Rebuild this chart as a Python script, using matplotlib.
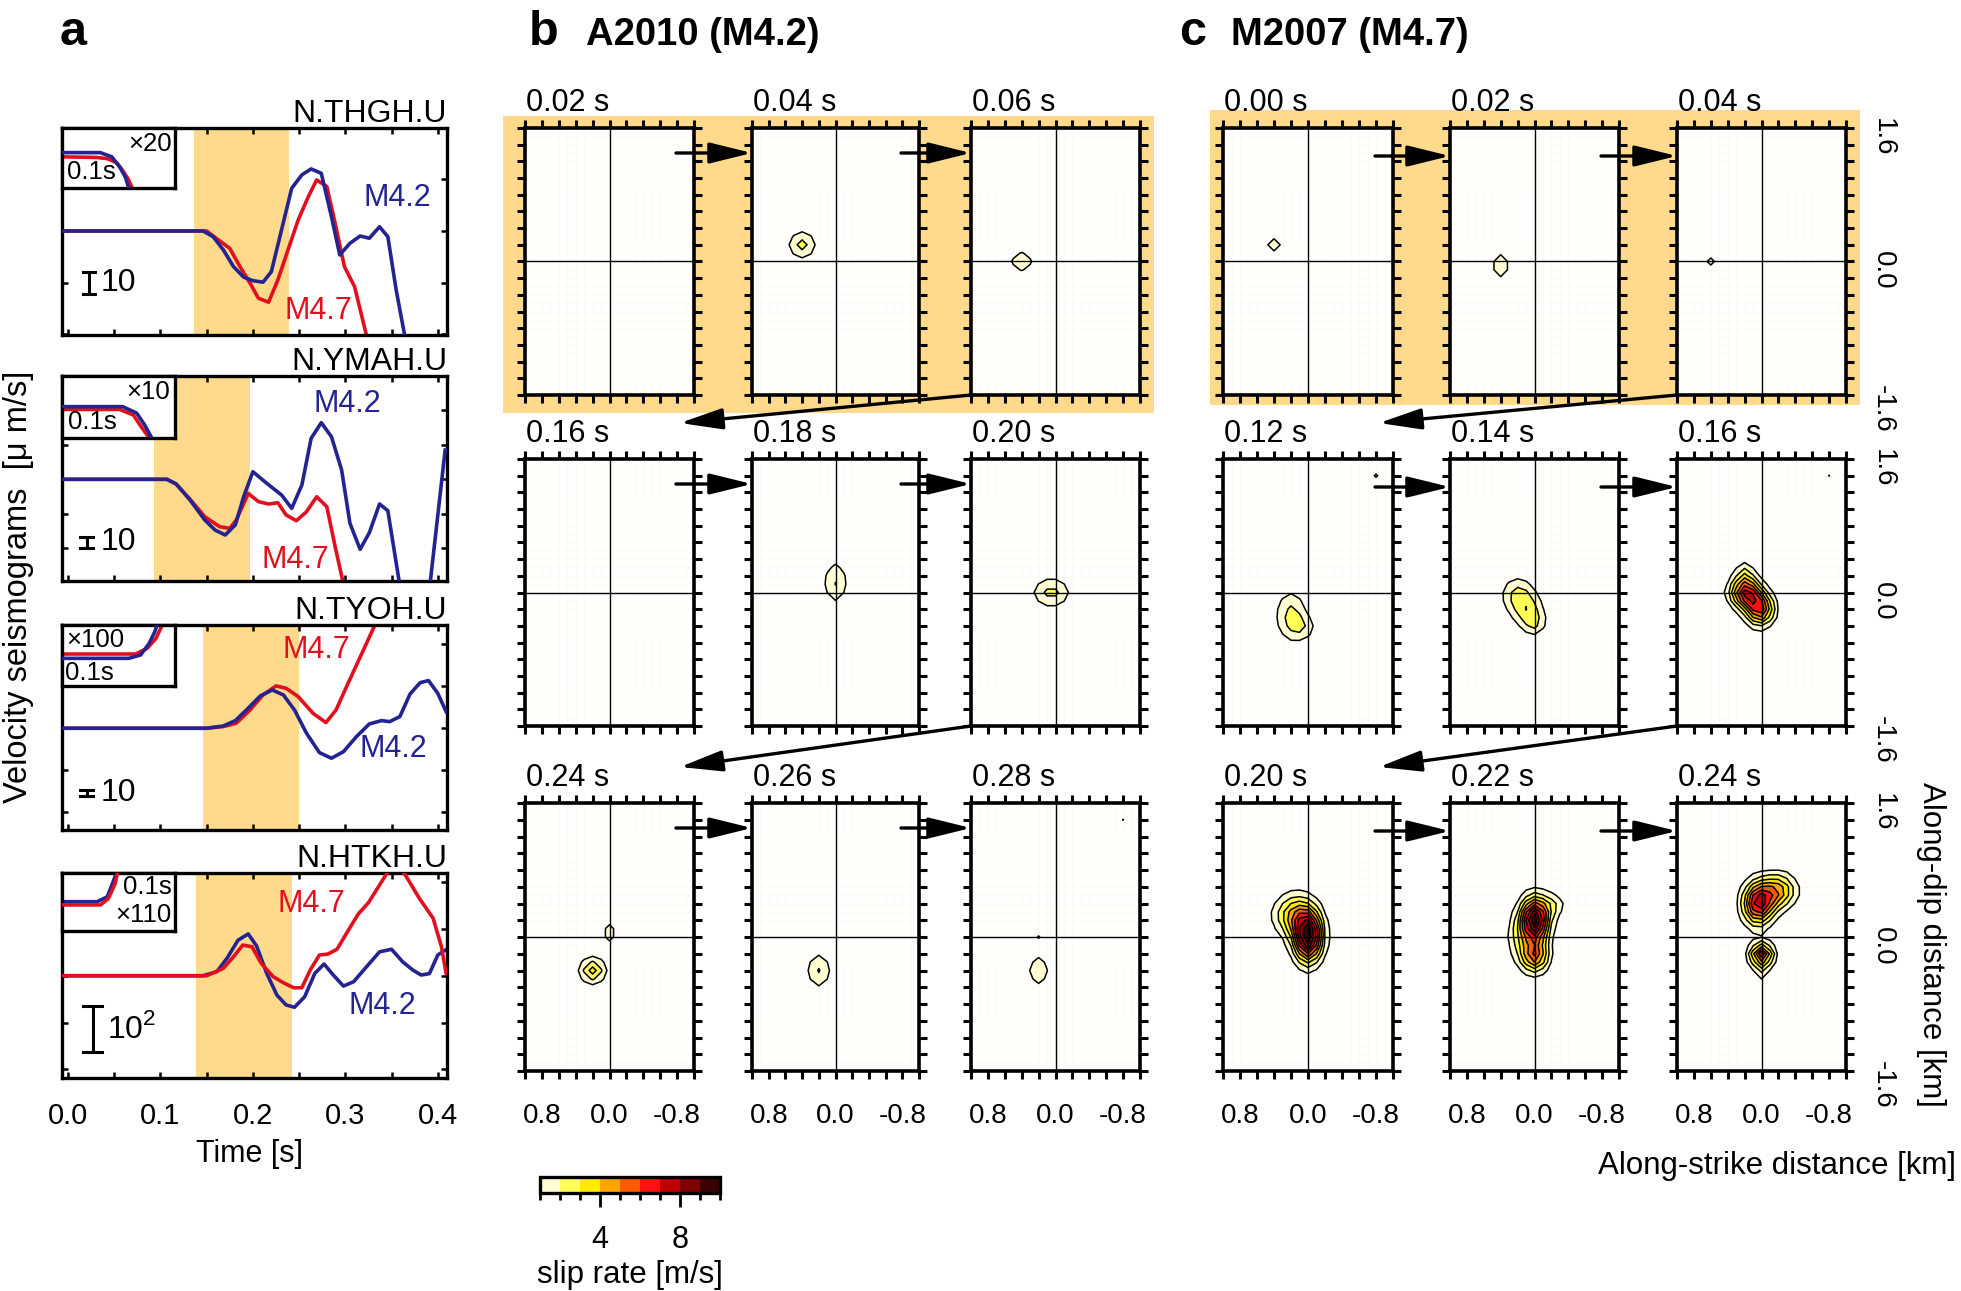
import matplotlib
matplotlib.use('Agg')
import matplotlib.pyplot as plt
import numpy as np
from matplotlib.patches import Rectangle, FancyArrowPatch
from matplotlib.colors import ListedColormap, BoundaryNorm
from matplotlib.cm import ScalarMappable
from matplotlib.ticker import MultipleLocator, FixedLocator, FixedFormatter
from matplotlib.transforms import blended_transform_factory

plt.rcParams['font.family'] = ['Liberation Sans', 'DejaVu Sans']
plt.rcParams['mathtext.fontset'] = 'custom'
plt.rcParams['mathtext.rm'] = 'Liberation Sans'

# ---------------- panel a: seismograms ----------------
stations = ['N.THGH.U', 'N.YMAH.U', 'N.TYOH.U', 'N.HTKH.U']
windows = [(0.136, 0.239), (0.093, 0.197), (0.146, 0.250), (0.138, 0.242)]
bar_len = [10, 10, 10, 100]
bar_text = ['10', '10', '10', '10$^2$']
gain_text = ['×20', '×10', '×100', '×110']

thgh_t42 = [-0.01, 0.146, 0.157, 0.168, 0.179, 0.190, 0.200, 0.211, 0.220, 0.231, 0.242, 0.253,
            0.263, 0.274, 0.285, 0.294, 0.305, 0.316, 0.326, 0.337, 0.346, 0.355, 0.364, 0.372]
thgh_v42 = [0, 0, -2.6, -8.6, -16.2, -21, -22.6, -23.3, -18.5, 0.5, 19.4, 25.5,
            28.2, 26.2, 6.5, -10.9, -5.6, -2.3, -3.3, 1.9, -2.6, -26.8, -47, -70]
thgh_t47 = [-0.01, 0.150, 0.158, 0.175, 0.186, 0.197, 0.206, 0.217, 0.227, 0.238, 0.249,
            0.260, 0.269, 0.280, 0.289, 0.299, 0.310, 0.321, 0.330]
thgh_v47 = [0, 0, -2.6, -7.9, -16.2, -23.8, -30.6, -32.4, -22.3, -8.6, 5,
            15.6, 23.2, 20.2, 3.5, -16.2, -25.3, -44.2, -60]

ymah_t42 = [-0.01, 0.107, 0.117, 0.132, 0.148, 0.159, 0.170, 0.181, 0.190, 0.200, 0.215, 0.231,
            0.242, 0.253, 0.263, 0.274, 0.285, 0.296, 0.305, 0.316, 0.326, 0.337, 0.346, 0.358,
            0.366, 0.388, 0.392, 0.408]
ymah_v42 = [0, 0, -4, -17.7, -34.8, -43.3, -47.6, -39, -14.9, 6.5, -3.4, -13.4,
            -24.8, -4.9, 35, 48.4, 36.4, 8, -37.6, -59.8, -45.6, -21.1, -26.8, -86,
            -110, -110, -87, 25]
ymah_t47 = [-0.01, 0.107, 0.117, 0.132, 0.148, 0.164, 0.175, 0.182, 0.195, 0.206, 0.217, 0.227,
            0.236, 0.247, 0.258, 0.269, 0.280, 0.289, 0.297, 0.305]
ymah_v47 = [0, 0, -4, -17, -32, -40.5, -41.9, -34.8, -12, -19.1, -21.1, -20,
            -30.5, -35.4, -27.7, -14.9, -23.4, -57.6, -86, -120]

tyoh_t42 = [-0.01, 0.150, 0.168, 0.181, 0.193, 0.208, 0.221, 0.233, 0.245, 0.258, 0.272, 0.285,
            0.298, 0.312, 0.326, 0.339, 0.348, 0.359, 0.370, 0.381, 0.390, 0.400, 0.409]
tyoh_v42 = [0, 0, 3.8, 12.7, 30.5, 53.8, 63.8, 55.5, 30.5, -8.3, -40.6, -50,
            -39, -14, 7.2, 12.7, 11, 19.4, 57, 76, 79.4, 58.3, 27.7]
tyoh_t47 = [-0.01, 0.150, 0.168, 0.182, 0.197, 0.211, 0.225, 0.236, 0.249, 0.265, 0.279, 0.290,
            0.303, 0.318, 0.332, 0.345]
tyoh_v47 = [0, 0, 2.8, 8.3, 30.5, 55.5, 70.5, 66.6, 52.7, 25, 9.4, 30.5,
            75, 125, 172, 220]

htkh_t42 = [-0.01, 0.146, 0.161, 0.172, 0.184, 0.195, 0.204, 0.215, 0.226, 0.236, 0.245, 0.256,
            0.267, 0.277, 0.287, 0.298, 0.309, 0.323, 0.337, 0.350, 0.362, 0.373, 0.382, 0.391,
            0.400, 0.411]
htkh_v42 = [0, 0, 8.9, 38.7, 79, 92.7, 66, 5.2, -43, -65, -70, -46.7,
            5.2, 26, 1.5, -23, -13.3, 20, 53, 58.7, 31, 12.6, 1.5, 4.7,
            46, 60.7]
htkh_t47 = [-0.01, 0.150, 0.168, 0.179, 0.189, 0.199, 0.209, 0.222, 0.233, 0.244, 0.253, 0.262,
            0.272, 0.281, 0.291, 0.303, 0.314, 0.325, 0.336, 0.345, 0.350, 0.357, 0.366, 0.380,
            0.395, 0.404, 0.409]
htkh_v47 = [0, 0, 16.3, 42, 68, 64.4, 27.5, -2.2, -15.5, -26.7, -26.7, 12.6,
            46, 48, 58.7, 100, 137, 162, 198, 227.5, 245, 245, 220, 172,
            127.5, 64.4, 5.2]

# inset close-ups of the onset (time in s, normalised amplitude)
ins_t42 = [[0, 0.0338, 0.044, 0.051, 0.056, 0.059, 0.060],
           [0, 0.0537, 0.066, 0.073, 0.079, 0.080],
           [0, 0.059, 0.0695, 0.077, 0.082, 0.084, 0.085],
           [0, 0.031, 0.040, 0.0456, 0.048, 0.049]]
ins_v42 = [[0.59, 0.59, 0.52, 0.35, 0.18, 0.0, -0.1],
           [0.505, 0.505, 0.40, 0.21, 0.01, -0.1],
           [0.454, 0.454, 0.51, 0.70, 0.89, 1.0, 1.1],
           [0.505, 0.505, 0.59, 0.87, 1.0, 1.1]]
ins_t47 = [[0, 0.030, 0.040, 0.0485, 0.0544, 0.059, 0.062, 0.063],
           [0, 0.051, 0.063, 0.070, 0.077, 0.078],
           [0, 0.065, 0.0754, 0.083, 0.0873, 0.089, 0.090],
           [0, 0.034, 0.041, 0.047, 0.049, 0.050]]
ins_v47 = [[0.52, 0.51, 0.49, 0.42, 0.27, 0.13, 0.0, -0.1],
           [0.46, 0.46, 0.37, 0.18, 0.0, -0.1],
           [0.525, 0.525, 0.62, 0.78, 0.95, 1.0, 1.1],
           [0.45, 0.45, 0.56, 0.82, 1.0, 1.1]]

# ---------------- panels b, c: slip-rate snapshots ----------------
b_times = ['0.02 s', '0.04 s', '0.06 s', '0.16 s', '0.18 s', '0.20 s', '0.24 s', '0.26 s', '0.28 s']
c_times = ['0.00 s', '0.02 s', '0.04 s', '0.12 s', '0.14 s', '0.16 s', '0.20 s', '0.22 s', '0.24 s']
# slip-rate patches: (strike km, dip km, width km, height km, peak m/s)
b_patches = [
    [],
    [(0.4, 0.2, 0.11, 0.11, 2.5)],
    [(0.4, 0.0, 0.13, 0.12, 1.5)],
    [],
    [(0.0, 0.12, 0.10, 0.18, 2.05)],
    [(0.05, 0.0, 0.15, 0.12, 2.4)],
    [(0.2, -0.4, 0.10, 0.10, 3.6), (0.0, 0.05, 0.08, 0.11, 1.5)],
    [(0.2, -0.4, 0.10, 0.15, 2.1)],
    [(0.2, -0.4, 0.10, 0.15, 1.7), (0.2, 0.0, 0.03, 0.03, 1.1), (-0.8, 1.4, 0.03, 0.03, 1.05)],
]
c_patches = [
    [(0.4, 0.2, 0.10, 0.10, 1.4)],
    [(0.4, -0.05, 0.09, 0.13, 1.7)],
    [(0.6, 0.0, 0.10, 0.10, 1.2)],
    [(0.2, -0.28, 0.12, 0.20, 2.4), (0.05, -0.42, 0.10, 0.10, 1.4), (-0.8, 1.4, 0.05, 0.05, 1.2)],
    [(0.2, -0.02, 0.13, 0.14, 2.2), (0.08, -0.22, 0.13, 0.14, 2.2), (0.0, -0.38, 0.09, 0.10, 1.6)],
    [(0.19, 0.0, 0.12, 0.12, 7.0), (0.02, -0.2, 0.11, 0.13, 6.5), (0.2, 0.24, 0.08, 0.09, 1.9),
     (-0.8, 1.4, 0.03, 0.03, 1.05)],
    [(0.0, 0.0, 0.11, 0.20, 9.8), (0.16, 0.26, 0.16, 0.17, 4.0)],
    [(0.0, 0.2, 0.11, 0.18, 9.8), (0.0, -0.23, 0.11, 0.13, 5.5), (-0.22, 0.38, 0.10, 0.10, 1.8),
     (0.2, 0.0, 0.10, 0.18, 1.6)],
    [(0.04, 0.40, 0.12, 0.17, 7.5), (-0.2, 0.55, 0.14, 0.14, 4.5), (0.0, -0.21, 0.09, 0.09, 7.0),
     (0.0, -0.42, 0.07, 0.08, 1.6)],
]
slip_levels = [1, 2, 3, 4, 5, 6, 7, 8, 9, 10]
slip_colors = ['#FFFFD2', '#FFFF55', '#FFEA00', '#FFA500', '#FF5A00',
               '#FF1010', '#C00000', '#800000', '#3C0000']

ORANGE = '#FFD98C'
BLUE = '#232391'
RED = '#E2101E'

W, H = 1961, 1291


def box(l, t, r, b):
    return [l / W, 1 - b / H, (r - l) / W, (b - t) / H]


fig = plt.figure(figsize=(W / 100, H / 100), dpi=100)

# ---- panel a ----
a_rows = [(128, 335), (376, 581), (625, 830), (873, 1078)]
ylims = [(-47.3, 46.8), (-86.9, 88.3), (-169.5, 172), (-227, 228)]
ystep = [23.5, 29.5, 70, 104]
red_on_top = [False, False, False, True]
m42_pos = [(0.782, 0.662), (0.652, 0.863), (0.774, 0.395), (0.743, 0.351)]
m47_pos = [(0.579, 0.116), (0.519, 0.102), (0.574, 0.878), (0.561, 0.849)]
bar_pos = [(0.070, 0.251, 0.016), (0.064, 0.188, 0.016), (0.064, 0.180, 0.016), (0.080, 0.239, 0.025)]
bar_txt_x = [0.100, 0.100, 0.100, 0.118]
inset_box = [(0.710, 0.290), (0.698, 0.302), (0.702, 0.298), (0.717, 0.283)]

wave42 = [(thgh_t42, thgh_v42), (ymah_t42, ymah_v42), (tyoh_t42, tyoh_v42), (htkh_t42, htkh_v42)]
wave47 = [(thgh_t47, thgh_v47), (ymah_t47, ymah_v47), (tyoh_t47, tyoh_v47), (htkh_t47, htkh_v47)]

for i, (top, bot) in enumerate(a_rows):
    ax = fig.add_axes(box(62, top, 447, bot))
    ax.axvspan(*windows[i], color=ORANGE, lw=0, zorder=0)
    zr, zb = (3, 2) if red_on_top[i] else (2, 3)
    ax.plot(*wave47[i], color=RED, lw=2.6, zorder=zr)
    ax.plot(*wave42[i], color=BLUE, lw=2.6, zorder=zb)
    ax.set_xlim(-0.0065, 0.41)
    ax.set_ylim(*ylims[i])
    ax.xaxis.set_major_locator(MultipleLocator(0.1))
    ax.xaxis.set_minor_locator(MultipleLocator(0.05))
    ax.xaxis.set_major_formatter(lambda v, p: f'{v:.1f}')
    ax.yaxis.set_major_locator(MultipleLocator(ystep[i]))
    ax.tick_params(which='both', direction='in', top=True, right=True, length=4, width=1.8,
                   labelsize=21, labelleft=False, pad=17)
    if i < 3:
        ax.tick_params(labelbottom=False)
    for s in ax.spines.values():
        s.set_linewidth(2.4)
    ax.text(1.0, 1 + 6 / (bot - top), stations[i], transform=ax.transAxes, ha='right',
            va='baseline', fontsize=23)
    ax.text(*m42_pos[i], 'M4.2', color=BLUE, transform=ax.transAxes, va='center', fontsize=22)
    ax.text(*m47_pos[i], 'M4.7', color=RED, transform=ax.transAxes, va='center', fontsize=22)

    # amplitude scale bar
    bx, byf, cap = bar_pos[i]
    y0, y1 = ax.get_ylim()
    yc = y0 + byf * (y1 - y0)
    L = bar_len[i]
    tr = blended_transform_factory(ax.transAxes, ax.transData)
    ax.plot([bx, bx], [yc - L / 2, yc + L / 2], color='k', lw=2.2, transform=tr, solid_capstyle='butt')
    for yy in (yc - L / 2, yc + L / 2):
        ax.plot([bx - cap, bx + cap], [yy, yy], color='k', lw=2.2, transform=tr)
    ax.text(bar_txt_x[i], byf, bar_text[i], transform=ax.transAxes, va='center', fontsize=23)

    # onset inset
    iy, ih = inset_box[i]
    iax = ax.inset_axes([0, iy, 0.294, ih])
    iax.plot(ins_t47[i], ins_v47[i], color=RED, lw=2.6, zorder=zr)
    iax.plot(ins_t42[i], ins_v42[i], color=BLUE, lw=2.6, zorder=zb)
    iax.set_xlim(0, 0.1)
    iax.set_ylim(0, 1)
    iax.set_xticks([])
    iax.set_yticks([])
    for s in iax.spines.values():
        s.set_linewidth(2.4)
    fs_in = 18.5
    if i == 0:
        iax.text(0.97, 0.73, gain_text[i], ha='right', va='center', fontsize=fs_in, transform=iax.transAxes)
        iax.text(0.04, 0.27, '0.1s', ha='left', va='center', fontsize=fs_in, transform=iax.transAxes)
    elif i == 1:
        iax.text(0.95, 0.74, gain_text[i], ha='right', va='center', fontsize=fs_in, transform=iax.transAxes)
        iax.text(0.05, 0.26, '0.1s', ha='left', va='center', fontsize=fs_in, transform=iax.transAxes)
    elif i == 2:
        iax.text(0.04, 0.75, gain_text[i], ha='left', va='center', fontsize=fs_in, transform=iax.transAxes)
        iax.text(0.03, 0.21, '0.1s', ha='left', va='center', fontsize=fs_in, transform=iax.transAxes)
    else:
        iax.text(0.97, 0.76, '0.1s', ha='right', va='center', fontsize=fs_in, transform=iax.transAxes)
        iax.text(0.97, 0.28, gain_text[i], ha='right', va='center', fontsize=fs_in, transform=iax.transAxes)

# ---- panels b and c ----
snap_rows = [(128, 395), (459, 726), (803, 1071)]
b_cols = [(525, 694), (752, 919), (971, 1140)]
c_cols = [(1223, 1393), (1450, 1619), (1677, 1846)]

gx = np.round(np.arange(-1.0, 1.0001, 0.1), 2)
gy = np.round(np.arange(-1.6, 1.6001, 0.1), 2)
GX, GY = np.meshgrid(gx, gy)
cmap = ListedColormap(slip_colors)
norm = BoundaryNorm(slip_levels, cmap.N)

xt = np.round(np.arange(-1.0, 1.0001, 0.2), 2)
yt = np.round(np.arange(-1.6, 1.6001, 0.2), 2)
xlab = [('0.8' if v == 0.8 else '0.0' if v == 0 else '-0.8' if v == -0.8 else '') for v in xt]
ylab = [('1.6' if v == 1.6 else '0.0' if v == 0 else '-1.6' if v == -1.6 else '') for v in yt]

fig.add_artist(Rectangle((503 / W, 1 - 413 / H), (1154 - 503) / W, (413 - 116) / H,
                         transform=fig.transFigure, color=ORANGE, lw=0, zorder=-5))
fig.add_artist(Rectangle((1210 / W, 1 - 405 / H), (1860 - 1210) / W, (405 - 110) / H,
                         transform=fig.transFigure, color=ORANGE, lw=0, zorder=-5))


def fig_arrow(x0, y0, x1, y1):
    fig.add_artist(FancyArrowPatch((x0 / W, 1 - y0 / H), (x1 / W, 1 - y1 / H),
                                   transform=fig.transFigure,
                                   arrowstyle='-|>,head_length=1.3,head_width=0.32',
                                   mutation_scale=20, lw=2.4, color='k',
                                   shrinkA=0, shrinkB=0, zorder=20))


for cols, times, patches in [(b_cols, b_times, b_patches), (c_cols, c_times, c_patches)]:
    for r, (top, bot) in enumerate(snap_rows):
        for c, (left, right) in enumerate(cols):
            k = r * 3 + c
            ax = fig.add_axes(box(left, top, right, bot))
            ax.set_xlim(1.0, -1.0)
            ax.set_ylim(-1.6, 1.6)
            ax.vlines(gx, -1.6, 1.6, color='#FEF9EA', lw=0.5, zorder=0)
            ax.hlines(gy, -1.0, 1.0, color='#FEF9EA', lw=0.5, zorder=0)
            if patches[k]:
                Z = np.zeros_like(GX)
                for x0, y0, sx, sy, amp in patches[k]:
                    Z += amp * np.exp(-((GX - x0) ** 2 / (2 * sx ** 2) + (GY - y0) ** 2 / (2 * sy ** 2)))
                Z = np.clip(Z, 0, 9.99)
                ax.contourf(GX, GY, Z, levels=slip_levels, cmap=cmap, norm=norm, zorder=1)
                lv = [l for l in slip_levels if l < Z.max()]
                if lv:
                    ax.contour(GX, GY, Z, levels=lv, colors='k', linewidths=1.1, zorder=2)
            ax.axhline(0, color='k', lw=1.0, zorder=3)
            ax.axvline(0, color='k', lw=1.0, zorder=3)
            ax.xaxis.set_major_locator(FixedLocator(xt))
            ax.xaxis.set_major_formatter(FixedFormatter(xlab))
            ax.yaxis.set_major_locator(FixedLocator(yt))
            ax.yaxis.set_major_formatter(FixedFormatter(ylab))
            ax.tick_params(direction='out', top=True, right=True, length=6, width=2.2,
                           labelsize=20, labelleft=False, labelbottom=(r == 2), pad=17)
            if cols is c_cols and c == 2:
                ax.tick_params(axis='y', labelright=True, labelrotation=-90, pad=11)
            for s in ax.spines.values():
                s.set_linewidth(2.6)
            ax.text(0.005, 1 + 17 / (bot - top), times[k], transform=ax.transAxes,
                    ha='left', va='baseline', fontsize=22)
            # arrow to next snapshot in the row
            if c < 2:
                dy = 25 if cols is b_cols else 28
                fig_arrow(right - 18, top + dy, cols[c + 1][0], top + dy)
        if r < 2:
            fig_arrow(cols[2][0], bot, cols[0][1] - 14, snap_rows[r + 1][0] - 36)

# colour bar
cax = fig.add_axes(box(540, 1177, 720, 1193))
cb = fig.colorbar(ScalarMappable(norm=norm, cmap=cmap), cax=cax, orientation='horizontal')
cb.set_ticks([4, 8])
cb.ax.xaxis.set_minor_locator(FixedLocator(slip_levels))
cb.ax.tick_params(which='major', direction='out', length=10, width=2, labelsize=22, pad=13)
cb.ax.tick_params(which='minor', direction='out', length=5, width=2)
cb.outline.set_linewidth(2.4)
cb.set_label('slip rate [m/s]', fontsize=22.5, labelpad=4)

# figure texts
fig.text(60 / W, 1 - 45 / H, 'a', fontsize=35, fontweight='bold', va='baseline')
fig.text(529 / W, 1 - 45 / H, 'b', fontsize=35, fontweight='bold', va='baseline')
fig.text(1179 / W, 1 - 45 / H, 'c', fontsize=35, fontweight='bold', va='baseline')
fig.text(586 / W, 1 - 45 / H, 'A2010 (M4.2)', fontsize=27.5, fontweight='bold', va='baseline')
fig.text(1231 / W, 1 - 45 / H, 'M2007 (M4.7)', fontsize=27.5, fontweight='bold', va='baseline')
fig.text(19 / W, 1 - 587 / H, 'Velocity seismograms  [μ m/s]', rotation=90, ha='center',
         va='center', fontsize=23.5)
fig.text(250 / W, 1 - 1154 / H, 'Time [s]', ha='center', va='center', fontsize=22)
fig.text(1956 / W, 1 - 1166 / H, 'Along-strike distance [km]', ha='right', va='center', fontsize=22.5)
fig.text(1931 / W, 1 - 944 / H, 'Along-dip distance [km]', rotation=-90, ha='center',
         va='center', fontsize=22.5)

fig.savefig('out.png', dpi=100)
